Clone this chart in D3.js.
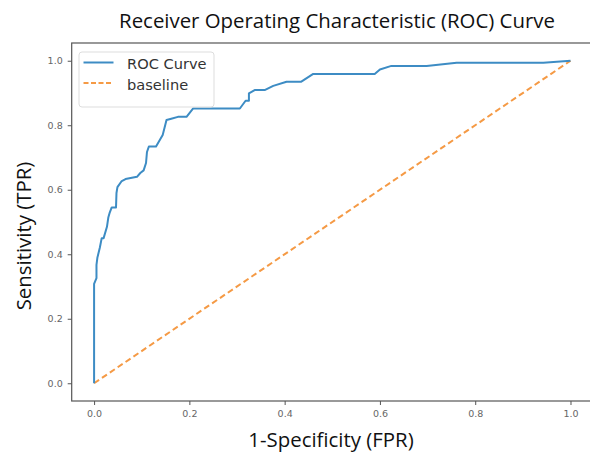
<!DOCTYPE html>
<html>
<head>
<meta charset="utf-8">
<script src="https://cdn.jsdelivr.net/npm/d3@7"></script>
<style>
  html, body { margin: 0; padding: 0; background: #fff; }
  svg { display: block; }
</style>
</head>
<body>
<svg id="chart" width="590" height="454"></svg>
<script>
// ROC curve: false positive rate vs true positive rate
const fpr = [0, 0, 0.005, 0.005, 0.007, 0.012, 0.016, 0.02, 0.027, 0.03, 0.033, 0.037, 0.046,
  0.047, 0.049, 0.058, 0.066, 0.09, 0.097, 0.104, 0.109, 0.111, 0.115, 0.13, 0.144, 0.152,
  0.162, 0.176, 0.194, 0.208, 0.306, 0.318, 0.325, 0.325, 0.337, 0.358, 0.376, 0.404, 0.435,
  0.46, 0.589, 0.6, 0.624, 0.698, 0.761, 0.943, 1];
const tpr = [0, 0.308, 0.326, 0.367, 0.39, 0.42, 0.45, 0.45, 0.485, 0.515, 0.53, 0.545, 0.545,
  0.59, 0.608, 0.627, 0.633, 0.64, 0.652, 0.66, 0.683, 0.717, 0.734, 0.734, 0.77, 0.816,
  0.82, 0.826, 0.826, 0.852, 0.852, 0.876, 0.876, 0.899, 0.909, 0.909, 0.922, 0.935, 0.935,
  0.959, 0.959, 0.973, 0.984, 0.984, 0.994, 0.994, 1];
// Chance-level diagonal
const baseX = [0, 1];
const baseY = [0, 1];
const tickValues = [0, 0.2, 0.4, 0.6, 0.8, 1.0];
const seriesNames = ["ROC Curve", "baseline"];

const svg = d3.select("#chart");
const blue = "#3d8cc4";
const orange = "#f59a45";

const x = d3.scaleLinear().domain([-0.047, 1.05]).range([71.7, 71.7 + 1.097 * 476.4]);
const y = d3.scaleLinear().domain([-0.055, 1.055]).range([401, 43]);

const frameLeft = x(-0.047), frameRight = x(1.05), frameTop = y(1.055), frameBottom = y(-0.055);

// axes frame
svg.append("rect")
  .attr("x", frameLeft).attr("y", frameTop)
  .attr("width", frameRight - frameLeft).attr("height", frameBottom - frameTop)
  .attr("fill", "none").attr("stroke", "#555").attr("stroke-width", 1.2);

const fmt = d3.format(".1f");
const xAxis = svg.append("g")
  .attr("transform", `translate(0,${frameBottom})`)
  .call(d3.axisBottom(x).tickValues(tickValues).tickFormat(fmt).tickSize(4).tickPadding(5));
const yAxis = svg.append("g")
  .attr("transform", `translate(${frameLeft},0)`)
  .call(d3.axisLeft(y).tickValues(tickValues).tickFormat(fmt).tickSize(4).tickPadding(5));
[xAxis, yAxis].forEach(g => {
  g.select(".domain").remove();
  g.selectAll(".tick line").attr("stroke", "#555");
  g.selectAll(".tick text")
    .attr("fill", "#666")
    .style("font-family", "DejaVu Sans")
    .style("font-size", "9.5px");
});

// curves
const line = d3.line().x(d => x(d[0])).y(d => y(d[1]));
svg.append("path")
  .datum(d3.zip(baseX, baseY))
  .attr("d", line)
  .attr("fill", "none")
  .attr("stroke", orange)
  .attr("stroke-width", 2)
  .attr("stroke-dasharray", "6,3.5");
svg.append("path")
  .datum(d3.zip(fpr, tpr))
  .attr("d", line)
  .attr("fill", "none")
  .attr("stroke", blue)
  .attr("stroke-width", 2)
  .attr("stroke-linejoin", "round");

// legend
const legend = svg.append("g");
legend.append("rect")
  .attr("x", 79).attr("y", 52).attr("width", 135).attr("height", 55)
  .attr("rx", 3)
  .attr("fill", "#fff").attr("fill-opacity", 0.9)
  .attr("stroke", "#ddd").attr("stroke-width", 1);
const legendStyles = [
  { color: blue, dash: null },
  { color: orange, dash: "5,2.5" }
];
seriesNames.forEach((name, i) => {
  const yy = 62.5 + i * 20.5;
  legend.append("line")
    .attr("x1", 83.5).attr("x2", 113.5).attr("y1", yy).attr("y2", yy)
    .attr("stroke", legendStyles[i].color).attr("stroke-width", 2)
    .attr("stroke-dasharray", legendStyles[i].dash);
  legend.append("text")
    .attr("x", 127).attr("y", yy + 6.5)
    .attr("fill", "#333")
    .style("font-family", "DejaVu Sans")
    .style("font-size", "14.6px")
    .text(name);
});

// titles
svg.append("text")
  .attr("x", 337).attr("y", 28)
  .attr("text-anchor", "middle")
  .attr("fill", "#111")
  .style("font-family", "Open Sans")
  .style("font-size", "20.4px")
  .text("Receiver Operating Characteristic (ROC) Curve");
svg.append("text")
  .attr("x", 331).attr("y", 447)
  .attr("text-anchor", "middle")
  .attr("fill", "#111")
  .style("font-family", "Open Sans")
  .style("font-size", "20.4px")
  .text("1-Specificity (FPR)");
svg.append("text")
  .attr("transform", "translate(31,236) rotate(-90)")
  .attr("text-anchor", "middle")
  .attr("fill", "#111")
  .style("font-family", "Open Sans")
  .style("font-size", "20.4px")
  .text("Sensitivity (TPR)");
</script>
</body>
</html>
